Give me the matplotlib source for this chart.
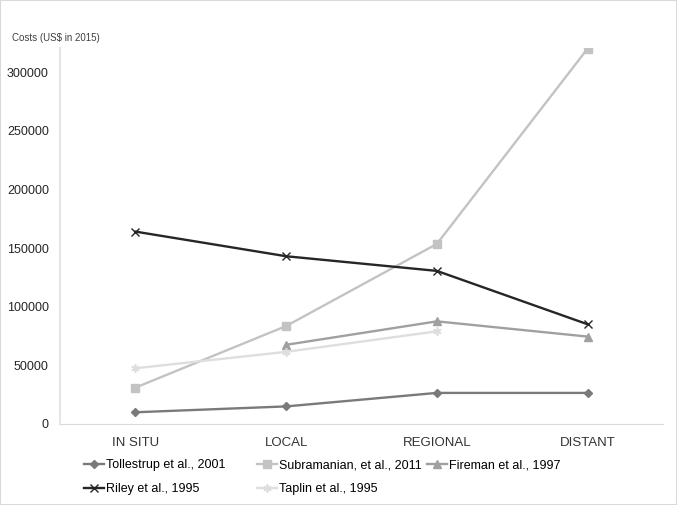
import matplotlib.pyplot as plt
from matplotlib.patches import Rectangle

plt.rcParams['font.family'] = ['Liberation Sans', 'DejaVu Sans']

categories = ['IN SITU', 'LOCAL', 'REGIONAL', 'DISTANT']

tollestrup = [10000, 15000, 26500, 26500]
subramanian = [31000, 83500, 153500, 320000]
fireman = [None, 67500, 87500, 74500]
riley = [164000, 143000, 130500, 85000]
taplin = [47500, 61500, 79000, None]

yticks = [0, 50000, 100000, 150000, 200000, 250000, 300000]

fig = plt.figure(figsize=(6.77, 5.05), dpi=100)
ax = fig.add_axes([60/677, 81/505, 603/677, 376/505])

x = list(range(len(categories)))

def series(vals):
    xs = [i for i, v in enumerate(vals) if v is not None]
    ys = [v for v in vals if v is not None]
    return xs, ys

h_toll, = ax.plot(*series(tollestrup), color='#7a7a7a', lw=1.7, marker='D', ms=4.5, label='Tollestrup et al., 2001')
h_subr, = ax.plot(*series(subramanian), color='#c3c3c3', lw=1.7, marker='s', ms=5.5, label='Subramanian, et al., 2011')
h_fire, = ax.plot(*series(fireman), color='#a0a0a0', lw=1.7, marker='^', ms=5.5, label='Fireman et al., 1997')
h_riley, = ax.plot(*series(riley), color='#262626', lw=1.7, marker='x', ms=5.5, mew=1, label='Riley et al., 1995')
h_tap, = ax.plot(*series(taplin), color='#dedede', lw=1.7, marker=(6, 2, 0), ms=6, mew=1.2, label='Taplin et al., 1995')

ax.set_xlim(-0.5, 3.5)
ax.set_ylim(0, 320500)
ax.set_xticks(x)
ax.set_xticklabels(categories, fontsize=9.5, color='#333333')
ax.set_yticks(yticks)
ax.set_yticklabels([str(v) for v in yticks], fontsize=9, color='#262626')
ax.tick_params(axis='both', length=0)
ax.tick_params(axis='x', pad=9)
ax.tick_params(axis='y', pad=8)

for s in ['top', 'right']:
    ax.spines[s].set_visible(False)
ax.spines['left'].set_color('#e6e6e6')
ax.spines['bottom'].set_color('#d9d9d9')
ax.spines['left'].set_linewidth(1.5)

fig.text(12/677, 1 - 38/505, 'Costs (US$ in 2015)', fontsize=7, color='#404040', va='center')

# legend laid out in three separate columns, as in the original
legend_cols = [([h_toll, h_riley], 84), ([h_subr, h_tap], 257), ([h_fire], 427)]
for handles, left in legend_cols:
    leg = fig.legend(handles=handles, loc='upper left',
                     bbox_to_anchor=(left/677, 1 - 459/505), frameon=False,
                     fontsize=9, handlelength=1.6, handletextpad=0.15,
                     labelspacing=0.95, borderpad=0, borderaxespad=0)

fig.patches.append(Rectangle((0, 0), 1, 1, transform=fig.transFigure, fill=False,
                             edgecolor='#d9d9d9', lw=1.5))

fig.savefig('out.png', dpi=100)
